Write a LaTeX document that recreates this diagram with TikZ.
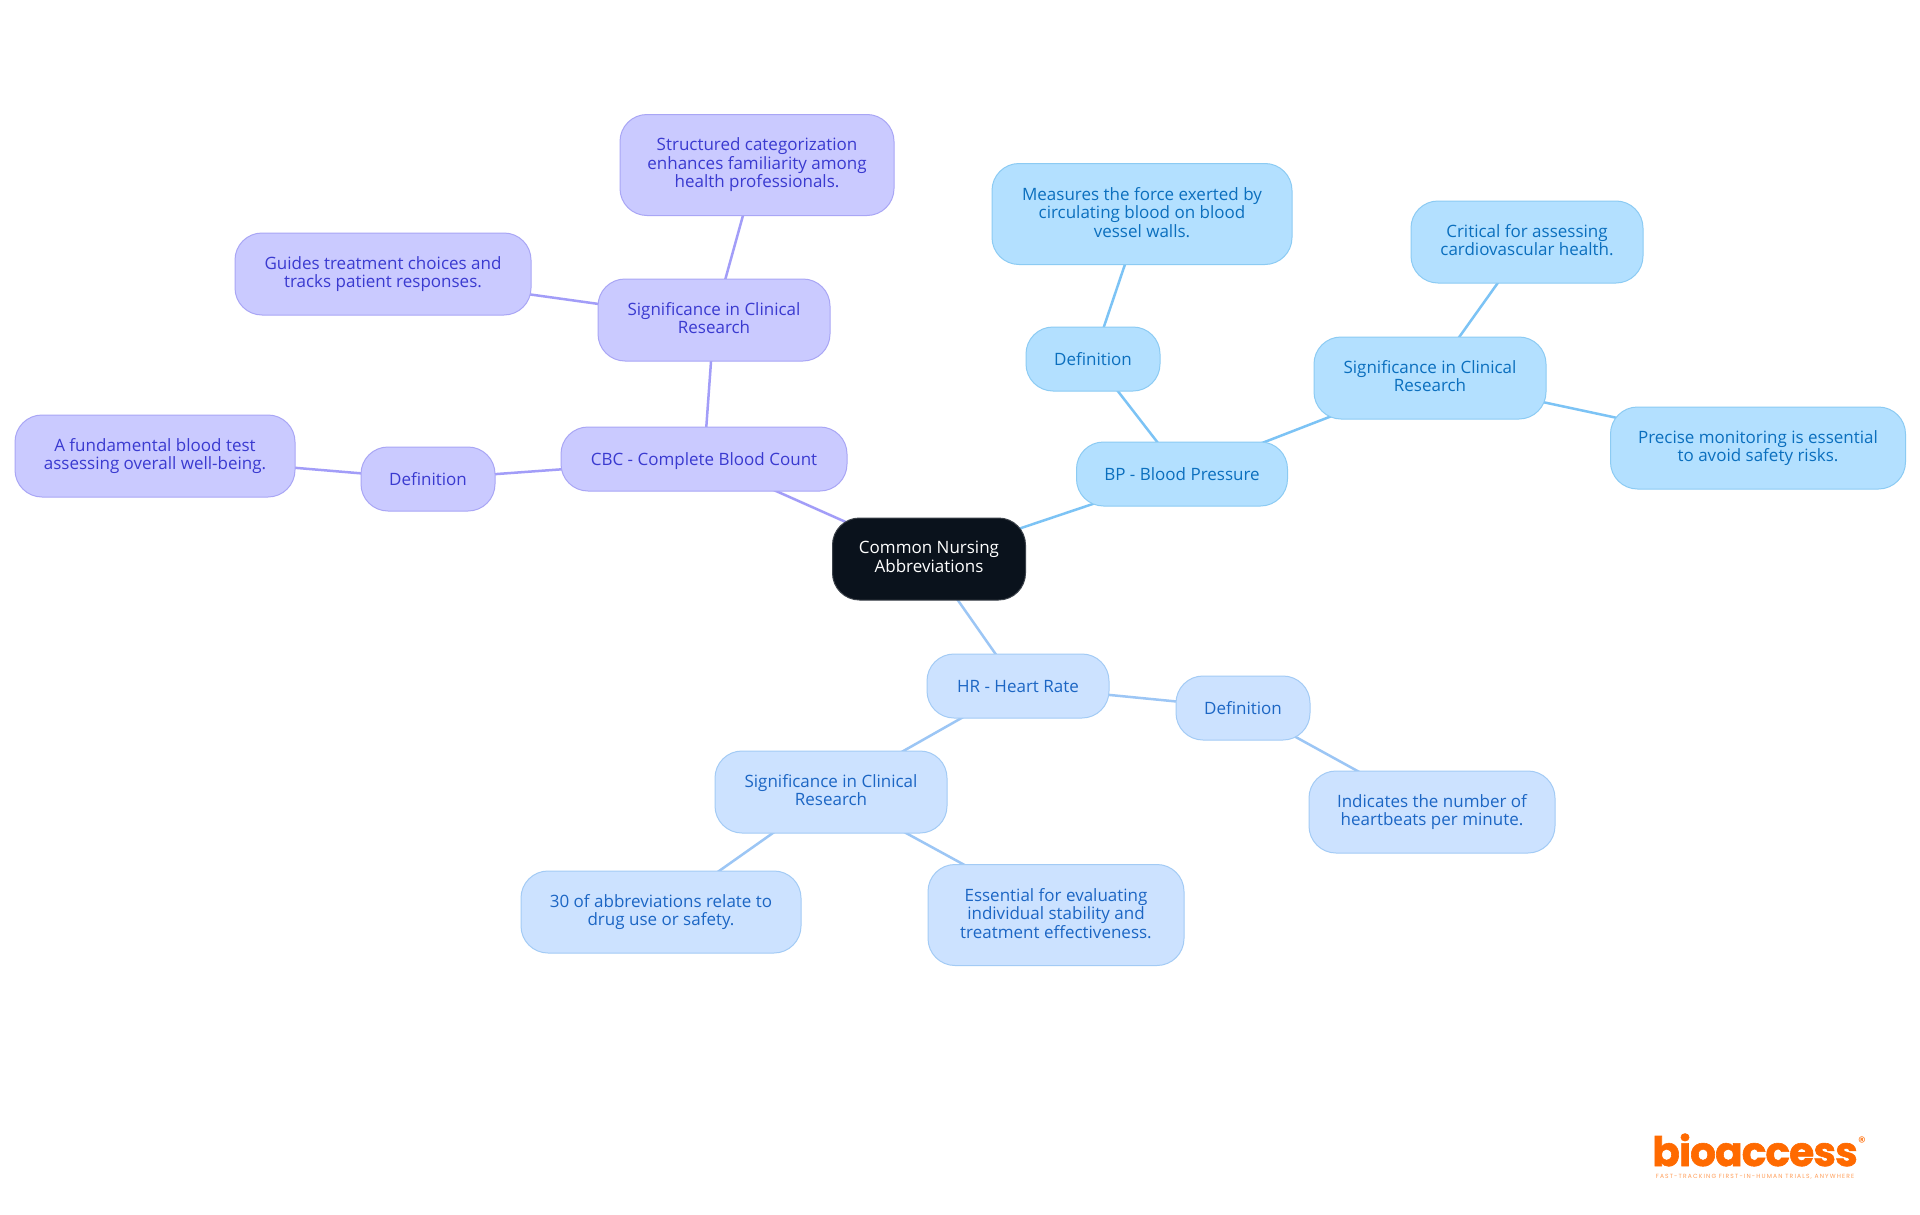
\documentclass[tikz,border=0pt]{standalone}
\usepackage{fontspec}
\setmainfont{Open Sans}
\newfontfamily\logofont[BoldFeatures={FakeBold=1.5,LetterSpace=-2}]{Poppins}
\newfontfamily\tagfont[LetterSpace=19]{Poppins}
\usetikzlibrary{backgrounds}
\definecolor{rootfill}{HTML}{0A121C}
\definecolor{pfill}{HTML}{CACAFF}
\definecolor{pdraw}{HTML}{A9A6F5}
\definecolor{ptext}{HTML}{3A3AD0}
\definecolor{pline}{HTML}{A29DF8}
\definecolor{bfill}{HTML}{B3E0FF}
\definecolor{bdraw}{HTML}{8CCBF3}
\definecolor{btext}{HTML}{0B6FBE}
\definecolor{bline}{HTML}{7CC3F5}
\definecolor{hfill}{HTML}{CCE2FF}
\definecolor{hdraw}{HTML}{A3CBF5}
\definecolor{htext}{HTML}{1C66C4}
\definecolor{hline}{HTML}{9CC6F5}
\definecolor{logoc}{HTML}{FF6A00}
\tikzset{
  x=1pt,y=-1pt,
  mm/.style={rounded corners=27pt,align=center,inner sep=0pt,font=\fontsize{17}{18.5}\selectfont,line width=1pt,
    execute at begin node={\rule{0pt}{17pt}},execute at end node={\rule[-4pt]{0pt}{4pt}}},
  rootn/.style={mm,fill=rootfill,draw=rootfill!80!white,text=white},
  pn/.style={mm,fill=pfill,draw=pdraw,text=ptext},
  bn/.style={mm,fill=bfill,draw=bdraw,text=btext},
  hn/.style={mm,fill=hfill,draw=hdraw,text=htext},
  sz/.style 2 args={minimum width=#1pt,minimum height=#2pt},
  pl/.style={draw=pline,line width=2.5pt},
  bl/.style={draw=bline,line width=2.5pt},
  hl/.style={draw=hline,line width=2.5pt},
}
\begin{document}
\begin{tikzpicture}
\useasboundingbox (0,0) rectangle (1920,1215);
\node[rootn,sz={193}{82}] (root) at (929,559) {Common Nursing\\Abbreviations};
\node[pn,sz={286}{64}] (cbc) at (704,459) {CBC - Complete Blood Count};
\node[pn,sz={134}{64}] (def1) at (428,479) {Definition};
\node[pn,sz={280}{82}] (fund) at (155,456) {A fundamental blood test\\assessing overall well-being.};
\node[pn,sz={232}{82}] (sig1) at (714,320) {Significance in Clinical\\Research};
\node[pn,sz={296}{82}] (guides) at (383,274) {Guides treatment choices and\\tracks patient responses.};
\node[pn,sz={274}{101}] (struct) at (757,165) {Structured categorization\\enhances familiarity among\\health professionals.};
\node[bn,sz={211}{64}] (bp) at (1182,474) {BP - Blood Pressure};
\node[bn,sz={134}{64}] (def2) at (1093,359) {Definition};
\node[bn,sz={300}{101}] (meas) at (1142,214) {Measures the force exerted by\\circulating blood on blood\\vessel walls.};
\node[bn,sz={232}{82}] (sig2) at (1430,378) {Significance in Clinical\\Research};
\node[bn,sz={232}{82}] (crit) at (1527,242) {Critical for assessing\\cardiovascular health.};
\node[bn,sz={295}{82}] (prec) at (1758,448) {Precise monitoring is essential\\to avoid safety risks.};
\node[hn,sz={182}{64}] (hr) at (1018,686) {HR - Heart Rate};
\node[hn,sz={134}{64}] (def3) at (1243,708) {Definition};
\node[hn,sz={246}{82}] (ind) at (1432,812) {Indicates the number of\\heartbeats per minute.};
\node[hn,sz={232}{82}] (sig3) at (831,792) {Significance in Clinical\\Research};
\node[hn,sz={280}{82}] (thirty) at (661,912) {30 of abbreviations relate to\\drug use or safety.};
\node[hn,sz={256}{101}] (ess) at (1056,915) {Essential for evaluating\\individual stability and\\treatment effectiveness.};
\begin{scope}[on background layer]
\fill[white] (0,0) rectangle (1920,1215);
\draw[pl] (root.center) -- (cbc.center);
\draw[pl] (cbc.center) -- (def1.center);
\draw[pl] (def1.center) -- (fund.center);
\draw[pl] (cbc.center) -- (sig1.center);
\draw[pl] (sig1.center) -- (guides.center);
\draw[pl] (sig1.center) -- (struct.center);
\draw[bl] (root.center) -- (bp.center);
\draw[bl] (bp.center) -- (def2.center);
\draw[bl] (def2.center) -- (meas.center);
\draw[bl] (bp.center) -- (sig2.center);
\draw[bl] (sig2.center) -- (crit.center);
\draw[bl] (sig2.center) -- (prec.center);
\draw[hl] (root.center) -- (hr.center);
\draw[hl] (hr.center) -- (def3.center);
\draw[hl] (def3.center) -- (ind.center);
\draw[hl] (hr.center) -- (sig3.center);
\draw[hl] (sig3.center) -- (thirty.center);
\draw[hl] (sig3.center) -- (ess.center);
\end{scope}
\node[inner sep=0pt,anchor=base,text=logoc,font=\logofont\bfseries\fontsize{40.5}{41}\selectfont] (logo) at (1755,1166) {bioaccess};
\node[inner sep=0pt,text=logoc,font=\logofont\fontsize{15}{15}\selectfont] (reg) at (1862,1142) {®};
\node[inner sep=0pt,text=logoc!65!white,font=\tagfont\fontsize{6}{6}\selectfont] (tag) at (1755,1177) {FAST-TRACKING FIRST-IN-HUMAN TRIALS, ANYWHERE};
\end{tikzpicture}
\end{document}
